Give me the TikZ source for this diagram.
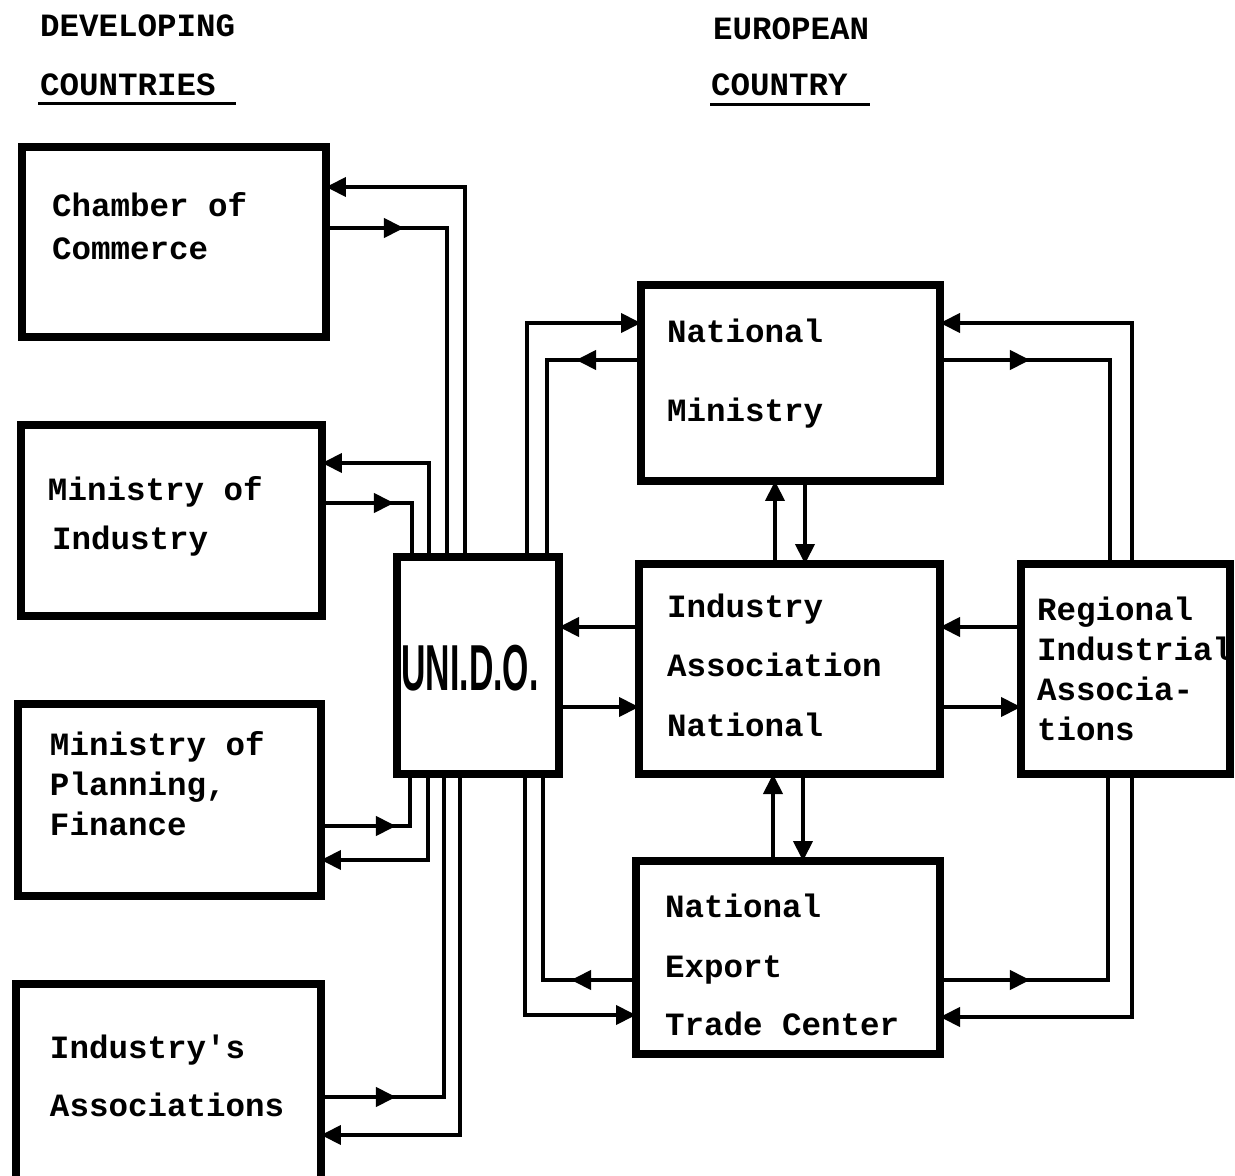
\documentclass[tikz,border=0pt]{standalone}
\usepackage{fontspec}
\setmonofont{Liberation Mono}
\newfontfamily\unidofont{Liberation Sans}
\usetikzlibrary{arrows.meta,decorations.markings}
\begin{document}
\begin{tikzpicture}[x=0.02cm,y=-0.02cm,
  every node/.style={inner sep=0pt,outer sep=0pt},
  boxnode/.style={draw=black,line width=0.16cm,rectangle,fill=white},
  txt/.style={anchor=base west,font=\fontsize{18.5}{22}\selectfont\ttfamily\bfseries},
  conn/.style={line width=0.08cm,line join=miter},
  endarr/.style={conn,-{Triangle[length=0.4cm,width=0.38cm]}},
  midarr/.style={conn,postaction={decorate,decoration={markings,mark=at position #1 with {\arrow{Triangle[length=0.4cm,width=0.38cm]}}}}}
]
\useasboundingbox[fill=white] (0,0) rectangle (1235,1176);

% headers
\node[txt] (h1) at (40,37) {DEVELOPING};
\node[txt] (h2) at (40,96) {COUNTRIES};
\node[txt] (h3) at (713,40) {EUROPEAN};
\node[txt] (h4) at (711,96) {COUNTRY};
\draw[line width=0.06cm] (h2.base west) ++(-2,8) coordinate (u1) -- ++(198,0) coordinate (u2);
\draw[line width=0.06cm] (h4.base west) ++(-1,9) coordinate (u3) -- ++(160,0) coordinate (u4);

% boxes
\node[boxnode,minimum width=0.02cm*304,minimum height=0.02cm*190] (cc) at (174,242) {};
\node[boxnode,minimum width=0.02cm*301,minimum height=0.02cm*191] (mi) at (171.5,520.5) {};
\node[boxnode,minimum width=0.02cm*303,minimum height=0.02cm*192] (pl) at (169.5,800) {};
\node[boxnode,minimum width=0.02cm*305,minimum height=0.02cm*196] (ia) at (168.5,1082) {};
\node[boxnode,minimum width=0.02cm*162,minimum height=0.02cm*217] (un) at (478,665.5) {};
\node[boxnode,minimum width=0.02cm*299,minimum height=0.02cm*196] (nm) at (790.5,383) {};
\node[boxnode,minimum width=0.02cm*301,minimum height=0.02cm*210] (ian) at (789.5,669) {};
\node[boxnode,minimum width=0.02cm*209,minimum height=0.02cm*210] (reg) at (1125.5,669) {};
\node[boxnode,minimum width=0.02cm*304,minimum height=0.02cm*193] (ex) at (788,957.5) {};

% box texts
\node[txt] (t1) at (52,216) {Chamber of};
\node[txt] (t2) at (52,259) {Commerce};
\node[txt] (t3) at (48,500) {Ministry of};
\node[txt] (t4) at (52,549) {Industry};
\node[txt] (t5) at (50,755) {Ministry of};
\node[txt] (t6) at (50,795) {Planning,};
\node[txt] (t7) at (50,835) {Finance};
\node[txt] (t8) at (50,1058) {Industry's};
\node[txt] (t9) at (50,1116) {Associations};
\node[txt] (t10) at (667,342) {National};
\node[txt] (t11) at (667,421) {Ministry};
\node[txt] (t12) at (667,617) {Industry};
\node[txt] (t13) at (667,676) {Association};
\node[txt] (t14) at (667,736) {National};
\node[txt] (t15) at (1037,620) {Regional};
\node[txt] (t16) at (1037,660) {Industrial};
\node[txt] (t17) at (1037,700) {Associa-};
\node[txt] (t18) at (1037,740) {tions};
\node[txt] (t19) at (665,917) {National};
\node[txt] (t20) at (665,977) {Export};
\node[txt] (t21) at (665,1035) {Trade Center};
\node[anchor=base,xscale=0.52,font=\fontsize{37}{40}\selectfont\unidofont\bfseries] (tu) at (470,690) {UNI.D.O.};

% left connectors
\draw[endarr] (465,0 |- un.north) -- (465,187) -- (cc.east |- 0,187);
\draw[midarr=1.56cm] (cc.east |- 0,228) -- (447,228) -- (447,0 |- un.north);
\draw[endarr] (429,0 |- un.north) -- (429,463) -- (mi.east |- 0,463);
\draw[midarr=1.44cm] (mi.east |- 0,503) -- (412,503) -- (412,0 |- un.north);
\draw[midarr=1.5cm] (pl.east |- 0,826) -- (410,826) -- (410,0 |- un.south);
\draw[endarr] (428,0 |- un.south) -- (428,860) -- (pl.east |- 0,860);
\draw[midarr=1.5cm] (ia.east |- 0,1097) -- (444,1097) -- (444,0 |- un.south);
\draw[endarr] (460,0 |- un.south) -- (460,1135) -- (ia.east |- 0,1135);

% UNIDO to European side
\draw[endarr] (527,0 |- un.north) -- (527,323) -- (nm.west |- 0,323);
\draw[midarr=1.3cm] (nm.west |- 0,360) -- (547,360) -- (547,0 |- un.north);
\draw[endarr] (525,0 |- un.south) -- (525,1015) -- (ex.west |- 0,1015);
\draw[midarr=1.3cm] (ex.west |- 0,980) -- (543,980) -- (543,0 |- un.south);
\draw[endarr] (ian.west |- 0,627) -- (un.east |- 0,627);
\draw[endarr] (un.east |- 0,707) -- (ian.west |- 0,707);

% industry association links
\draw[endarr] (reg.west |- 0,627) -- (ian.east |- 0,627);
\draw[endarr] (ian.east |- 0,707) -- (reg.west |- 0,707);
\draw[endarr] (775,0 |- ian.north) -- (775,0 |- nm.south);
\draw[endarr] (805,0 |- nm.south) -- (805,0 |- ian.north);
\draw[endarr] (773,0 |- ex.north) -- (773,0 |- ian.south);
\draw[endarr] (803,0 |- ian.south) -- (803,0 |- ex.north);

% regional links
\draw[endarr] (1132,0 |- reg.north) -- (1132,323) -- (nm.east |- 0,323);
\draw[midarr=1.8cm] (nm.east |- 0,360) -- (1110,360) -- (1110,0 |- reg.north);
\draw[midarr=1.8cm] (ex.east |- 0,980) -- (1108,980) -- (1108,0 |- reg.south);
\draw[endarr] (1132,0 |- reg.south) -- (1132,1017) -- (ex.east |- 0,1017);
\end{tikzpicture}
\end{document}
